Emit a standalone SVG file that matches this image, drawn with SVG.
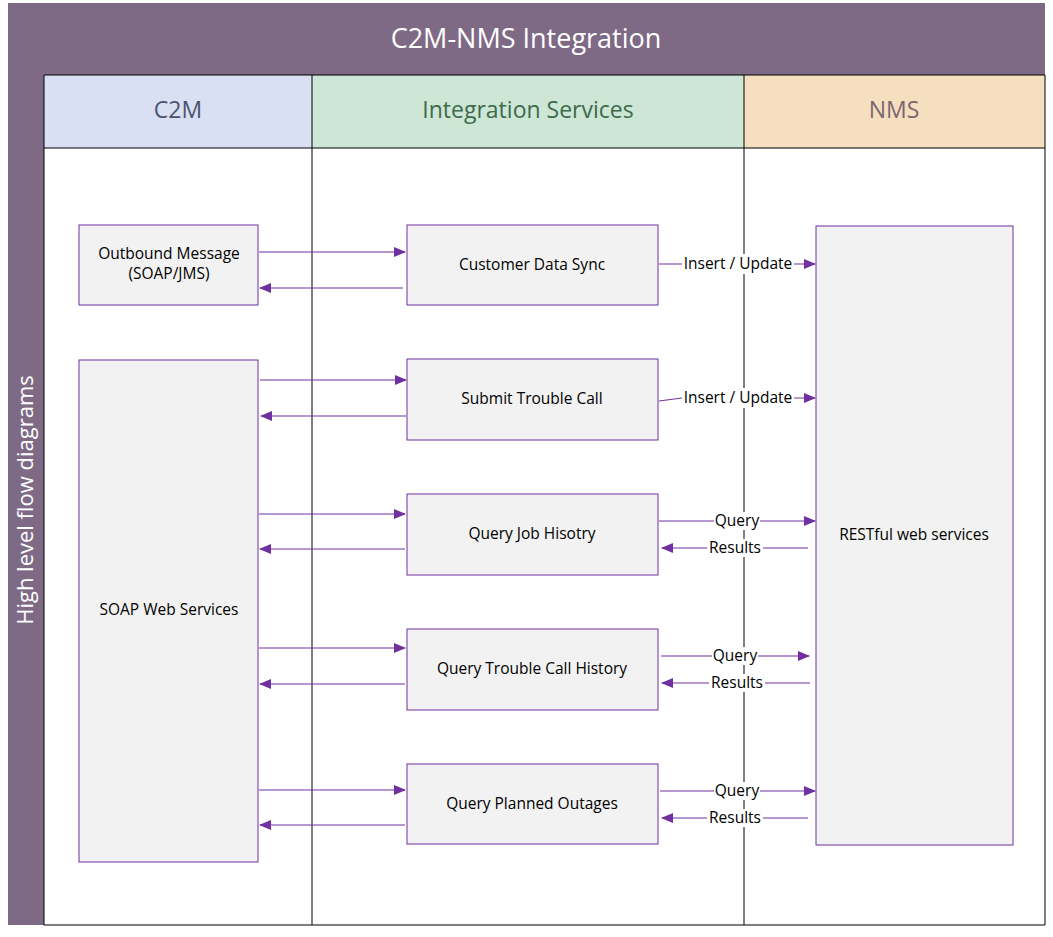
<svg xmlns="http://www.w3.org/2000/svg" width="1053" height="937" viewBox="0 0 1053 937">
<style>
text{font-family:"Open Sans","Noto Sans",sans-serif;}
.node{fill:#f2f2f2;stroke:#7030a0;stroke-width:1}
.nt{font-size:15.5px;fill:#000;text-anchor:middle}
.c{stroke:#7030a0;stroke-width:1.2;fill:none;marker-end:url(#ah)}
.lbl{font-size:15.5px;fill:#000;text-anchor:middle}
.lb{fill:#fff}
</style>
<defs>
<marker id="ah" markerWidth="12" markerHeight="10" refX="11" refY="5" orient="auto" markerUnits="userSpaceOnUse">
<path d="M0,0 L12,5 L0,10 Z" fill="#7030a0"/>
</marker>
</defs>
<rect width="1053" height="937" fill="#fff"/>
<g id="frame">
<rect x="8" y="3" width="1037" height="72" fill="#7f6a86"/>
<text x="526" y="48" font-size="27" fill="#fff" text-anchor="middle">C2M-NMS Integration</text>
<rect x="8" y="75" width="36" height="850" fill="#7f6a86"/>
<text transform="translate(33,500) rotate(-90)" font-size="22" fill="#fff" text-anchor="middle">High level flow diagrams</text>
<rect x="44" y="75" width="268" height="73" fill="#dae0f3"/>
<rect x="312" y="75" width="432" height="73" fill="#cde6d6"/>
<rect x="744" y="75" width="301" height="73" fill="#f6dfbe"/>
<text x="178" y="118" font-size="23" fill="#4a5470" text-anchor="middle">C2M</text>
<text x="528" y="118" font-size="23" fill="#3d6b4b" text-anchor="middle">Integration Services</text>
<text x="894" y="118" font-size="23" fill="#7b6673" text-anchor="middle">NMS</text>
<path d="M44,75 H1045 V925 H44 Z M44,148 H1045 M312,75 V925 M744,75 V925" fill="none" stroke="#000" stroke-width="1"/>
</g>
<g id="connectors">
<path class="c" d="M259,252 H405"/>
<path class="c" d="M403,288 H260"/>
<path class="c" d="M260,380 H406"/>
<path class="c" d="M406,416 H261"/>
<path class="c" d="M259,514 H405"/>
<path class="c" d="M405,549 H260"/>
<path class="c" d="M259,648 H405"/>
<path class="c" d="M405,684 H260"/>
<path class="c" d="M259,790 H405"/>
<path class="c" d="M405,825 H260"/>
<path class="c" d="M659,264 H815"/>
<path class="c" d="M659,401 L682,398 H815"/>
<path class="c" d="M659,521 H815"/>
<path class="c" d="M808,548 H662"/>
<path class="c" d="M661,656 H809"/>
<path class="c" d="M810,683 H662"/>
<path class="c" d="M660,791 H815"/>
<path class="c" d="M808,818 H662"/>
<g class="lbl">
<rect class="lb" x="682" y="254" width="112" height="20"/><text x="738" y="269">Insert / Update</text>
<rect class="lb" x="682" y="388" width="112" height="20"/><text x="738" y="403">Insert / Update</text>
<rect class="lb" x="714" y="512" width="46" height="18"/><text x="737" y="526">Query</text>
<rect class="lb" x="707" y="539" width="56" height="18"/><text x="735" y="553">Results</text>
<rect class="lb" x="712" y="647" width="46" height="18"/><text x="735" y="661">Query</text>
<rect class="lb" x="709" y="674" width="56" height="18"/><text x="737" y="688">Results</text>
<rect class="lb" x="714" y="782" width="46" height="18"/><text x="737" y="796">Query</text>
<rect class="lb" x="707" y="809" width="56" height="18"/><text x="735" y="823">Results</text>
</g>
</g>
<g id="outbound"><rect class="node" x="79" y="225" width="179" height="80"/><text class="nt" x="169" y="259" fill="#333">Outbound Message</text><text class="nt" x="169" y="279">(SOAP/JMS)</text></g>
<g id="soap"><rect class="node" x="79" y="360" width="179" height="502"/><text class="nt" x="169" y="615">SOAP Web Services</text></g>
<g id="cds"><rect class="node" x="407" y="225" width="251" height="80"/><text class="nt" x="532" y="270">Customer Data Sync</text></g>
<g id="stc"><rect class="node" x="407" y="359" width="251" height="81"/><text class="nt" x="532" y="404">Submit Trouble Call</text></g>
<g id="qjh"><rect class="node" x="407" y="494" width="251" height="81"/><text class="nt" x="532" y="539">Query Job Hisotry</text></g>
<g id="qtch"><rect class="node" x="407" y="629" width="251" height="81"/><text class="nt" x="532" y="674">Query Trouble Call History</text></g>
<g id="qpo"><rect class="node" x="407" y="764" width="251" height="80"/><text class="nt" x="532" y="809">Query Planned Outages</text></g>
<g id="rest"><rect class="node" x="816" y="226" width="197" height="619"/><text class="nt" x="914" y="540">RESTful web services</text></g>
</svg>
